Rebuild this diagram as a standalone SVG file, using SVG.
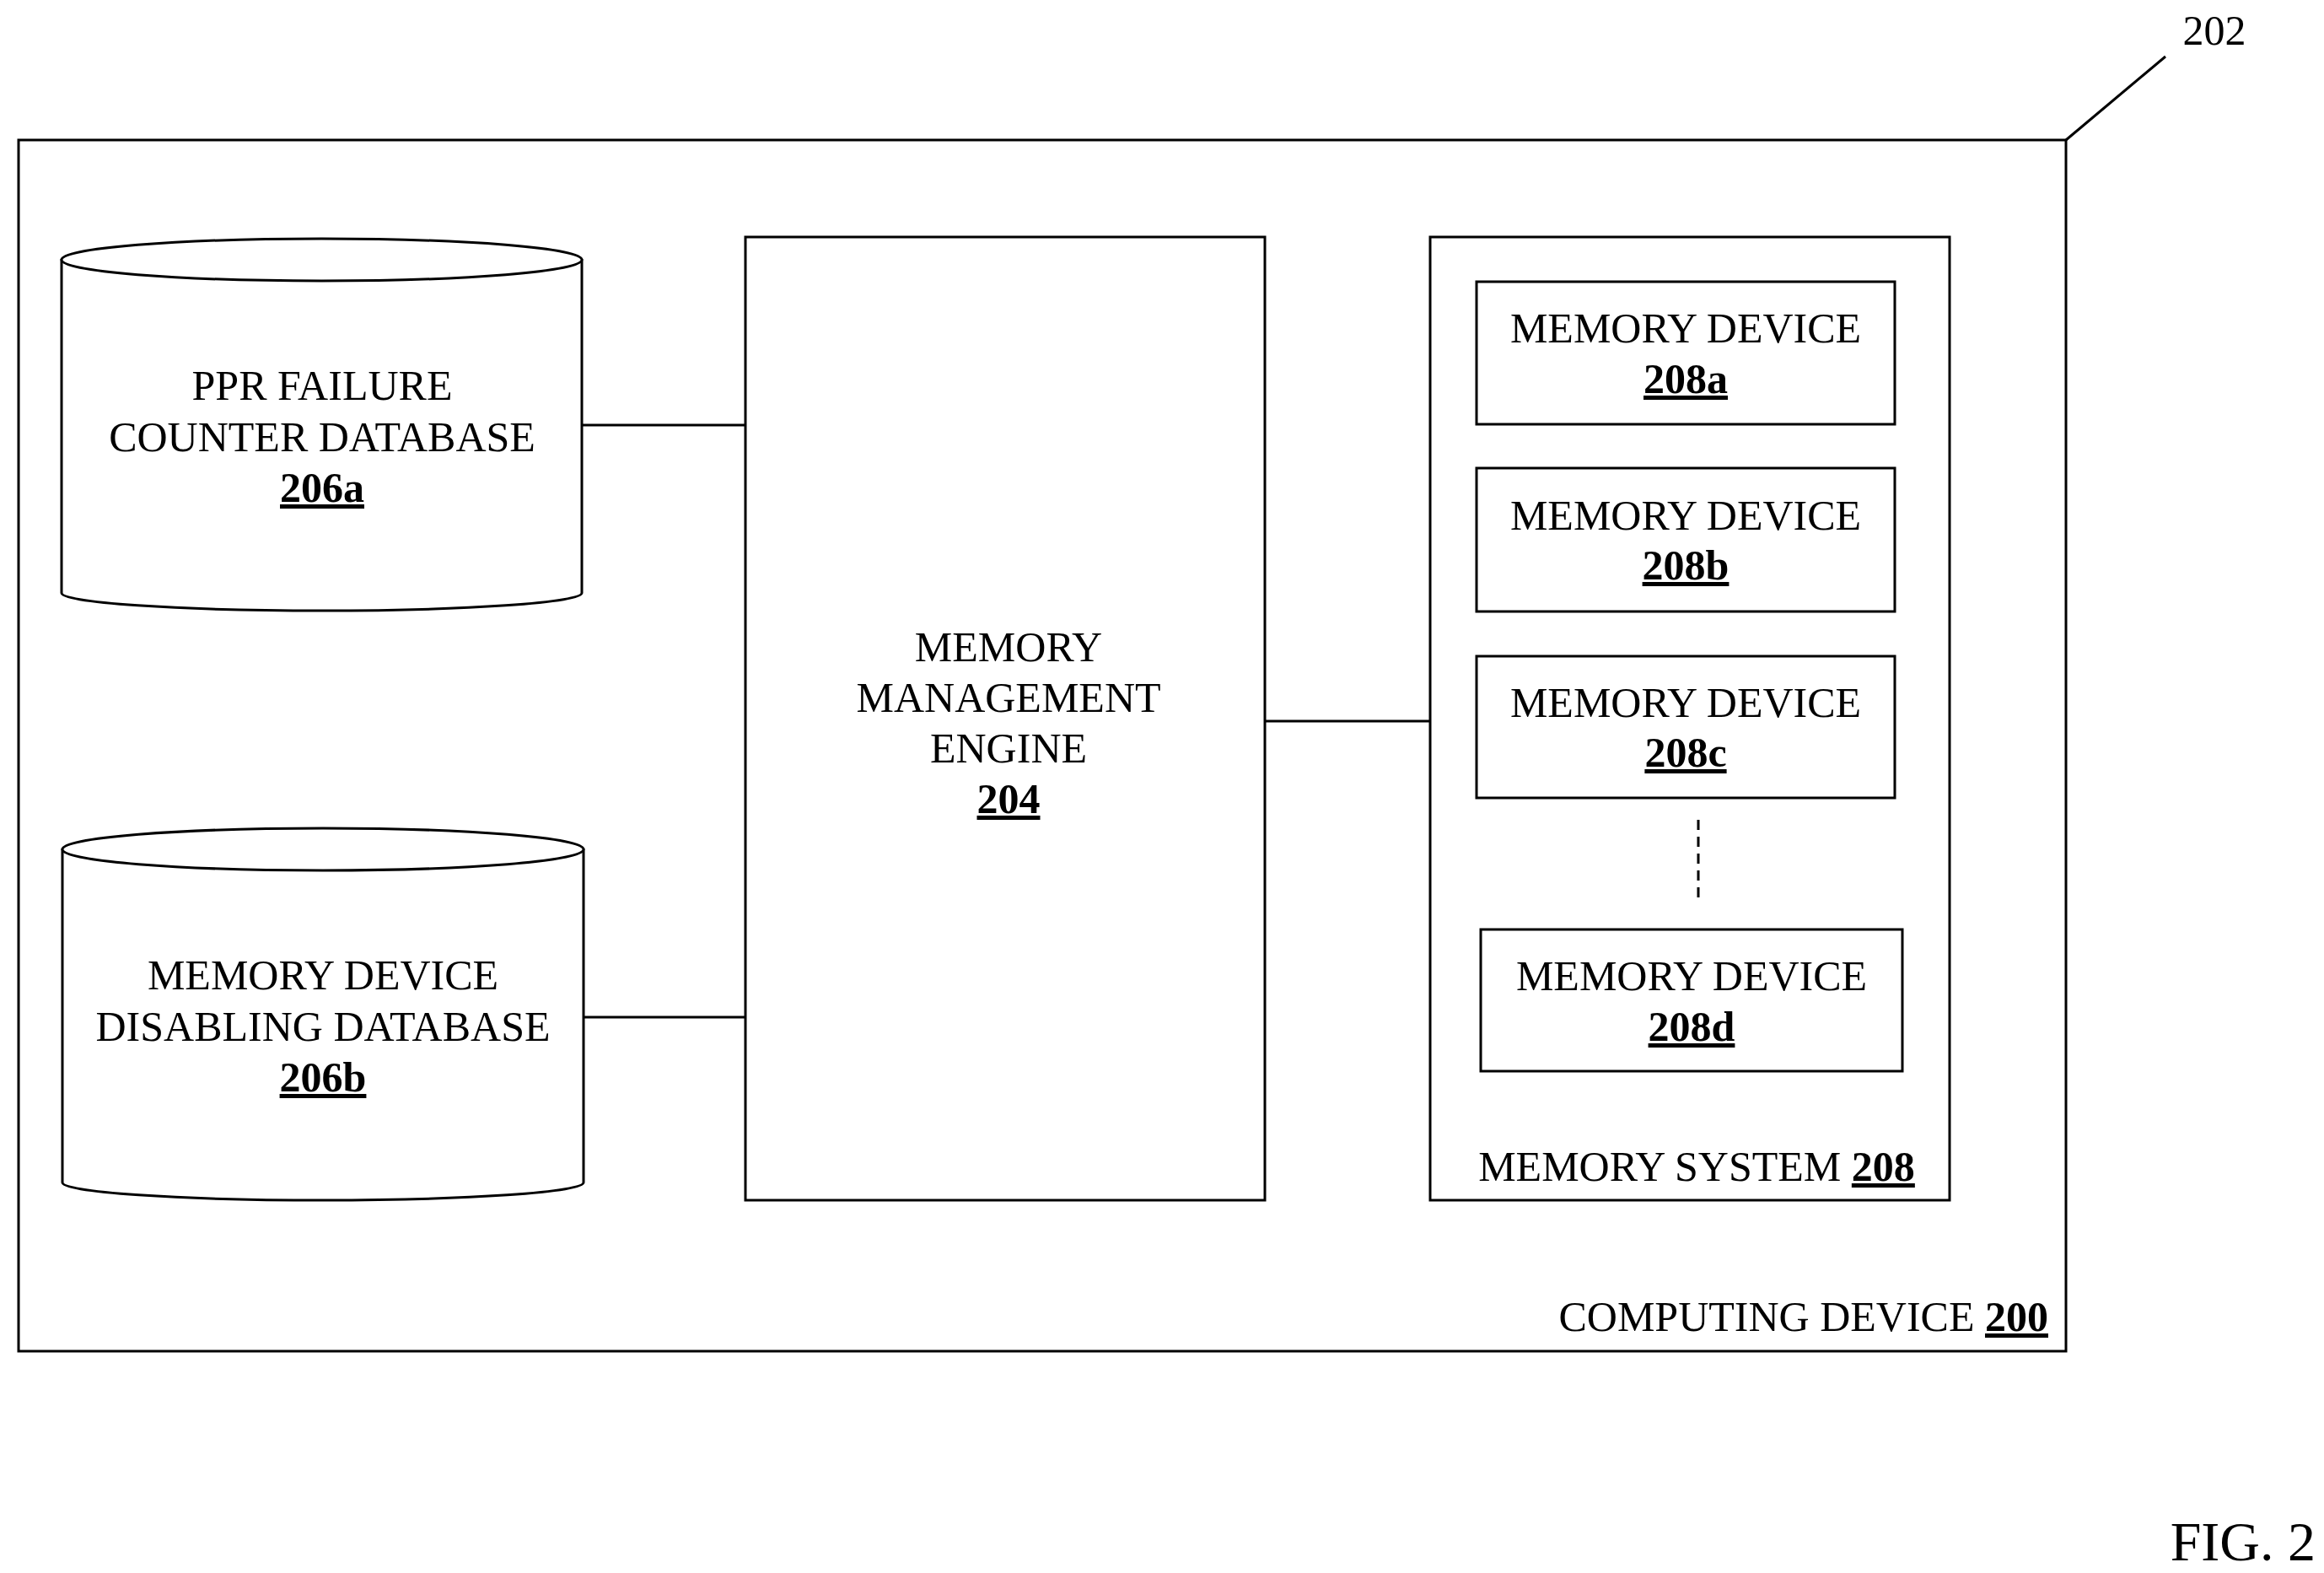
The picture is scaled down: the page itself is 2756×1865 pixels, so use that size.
<svg xmlns="http://www.w3.org/2000/svg" width="2756" height="1865" viewBox="0 0 2756 1865">
<style>
.s{fill:none;stroke:#000;stroke-width:3}
.w{fill:#fff;stroke:#000;stroke-width:3}
text{font-family:"Liberation Serif","Times New Roman",serif;font-size:50px;fill:#000;text-anchor:middle}
.n{font-weight:bold;text-decoration:underline}
</style>
<rect width="2756" height="1865" fill="#fff"/>
<g id="computing-device-200">
<rect x="22" y="166" width="2428" height="1436" class="s" stroke-width="4"/>
<text x="2429" y="1578" style="text-anchor:end">COMPUTING DEVICE <tspan class="n">200</tspan></text>
</g>
<g id="ref-202">
<line x1="2450" y1="166" x2="2568" y2="67" class="s"/>
<text x="2626" y="53">202</text>
</g>
<g id="db-206a">
<path d="M73,307 L73,703 A308.5,21 0 0 0 690,703 L690,307" class="w"/>
<ellipse cx="381.5" cy="308" rx="308.5" ry="25" class="w"/>
<text x="382" y="474">PPR FAILURE</text>
<text x="382" y="535">COUNTER DATABASE</text>
<text x="382" y="595" class="n">206a</text>
</g>
<g id="db-206b">
<path d="M74,1006 L74,1402 A309,21 0 0 0 692,1402 L692,1006" class="w"/>
<ellipse cx="383" cy="1007" rx="309" ry="25" class="w"/>
<text x="383" y="1173">MEMORY DEVICE</text>
<text x="383" y="1234">DISABLING DATABASE</text>
<text x="383" y="1294" class="n">206b</text>
</g>
<g id="engine-204">
<rect x="884" y="281" width="616" height="1142" class="w"/>
<text x="1196" y="784">MEMORY</text>
<text x="1196" y="844">MANAGEMENT</text>
<text x="1196" y="904">ENGINE</text>
<text x="1196" y="964" class="n">204</text>
</g>
<g id="memory-system-208">
<rect x="1696" y="281" width="616" height="1142" class="w"/>
<text x="2012" y="1400">MEMORY SYSTEM <tspan class="n">208</tspan></text>
</g>
<g id="device-208a">
<rect x="1751" y="334" width="496" height="169" class="w"/>
<text x="1999" y="406">MEMORY DEVICE</text>
<text x="1999" y="466" class="n">208a</text>
</g>
<g id="device-208b">
<rect x="1751" y="555" width="496" height="170" class="w"/>
<text x="1999" y="628">MEMORY DEVICE</text>
<text x="1999" y="687" class="n">208b</text>
</g>
<g id="device-208c">
<rect x="1751" y="778" width="496" height="168" class="w"/>
<text x="1999" y="850">MEMORY DEVICE</text>
<text x="1999" y="909" class="n">208c</text>
</g>
<g id="device-208d">
<rect x="1756" y="1102" width="500" height="168" class="w"/>
<text x="2006" y="1174">MEMORY DEVICE</text>
<text x="2006" y="1234" class="n">208d</text>
</g>
<g id="connectors">
<line x1="690" y1="504" x2="884" y2="504" class="s"/>
<line x1="692" y1="1206" x2="884" y2="1206" class="s"/>
<line x1="1500" y1="855" x2="1696" y2="855" class="s"/>
<line x1="2014" y1="972" x2="2014" y2="1072" class="s" stroke-dasharray="12,8"/>
</g>
<text x="2746" y="1850" style="text-anchor:end;font-size:66px">FIG. 2</text>
</svg>
